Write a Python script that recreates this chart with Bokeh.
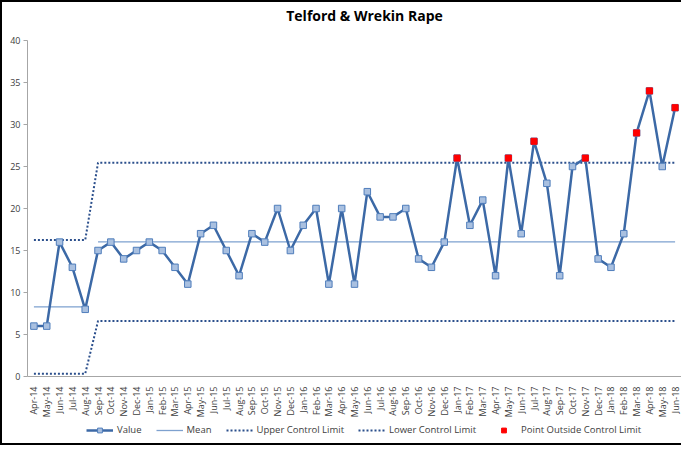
import math
from bokeh.plotting import figure
from bokeh.layouts import column
from bokeh.models import FixedTicker, Legend, LegendItem, Range1d, Label
from bokeh.embed import file_html
from bokeh.resources import INLINE

title_text = "Telford & Wrekin Rape"
months = ["Apr-14", "May-14", "Jun-14", "Jul-14", "Aug-14", "Sep-14", "Oct-14", "Nov-14", "Dec-14",
          "Jan-15", "Feb-15", "Mar-15", "Apr-15", "May-15", "Jun-15", "Jul-15", "Aug-15", "Sep-15",
          "Oct-15", "Nov-15", "Dec-15", "Jan-16", "Feb-16", "Mar-16", "Apr-16", "May-16", "Jun-16",
          "Jul-16", "Aug-16", "Sep-16", "Oct-16", "Nov-16", "Dec-16", "Jan-17", "Feb-17", "Mar-17",
          "Apr-17", "May-17", "Jun-17", "Jul-17", "Aug-17", "Sep-17", "Oct-17", "Nov-17", "Dec-17",
          "Jan-18", "Feb-18", "Mar-18", "Apr-18", "May-18", "Jun-18"]
values = [6, 6, 16, 13, 8, 15, 16, 14, 15,
          16, 15, 13, 11, 17, 18, 15, 12, 17,
          16, 20, 15, 18, 20, 11, 20, 11, 22,
          19, 19, 20, 14, 13, 16, 26, 18, 21,
          12, 26, 17, 28, 23, 12, 25, 26, 14,
          13, 17, 29, 34, 25, 32]
mean_vals = [8.28] * 5 + [16.03] * 46
ucl_vals = [16.24] * 5 + [25.45] * 46
lcl_vals = [0.32] * 5 + [6.6] * 46
legend_labels = ["Value", "Mean", "Upper Control Limit", "Lower Control Limit",
                 "Point Outside Control Limit"]

x = list(range(len(months)))
out_x = [i for i in x if values[i] > ucl_vals[i] or values[i] < lcl_vals[i]]
out_y = [values[i] for i in out_x]

FONT = "Open Sans"
TXT = "#404040"
C_VAL = "#3C69A6"
C_MFILL = "#A9C0E0"
C_MLINE = "#4F7DBB"
C_MEAN = "#7EA1CF"
C_LIM = "#2B4F8C"
C_OUT = "#FF0000"
W = 679


def blank_strip(height):
    f = figure(width=W, height=height, output_backend="svg", toolbar_location=None,
               x_range=Range1d(0, 1), y_range=Range1d(0, 1),
               min_border_left=0, min_border_right=0, min_border_top=0, min_border_bottom=0)
    f.axis.visible = False
    f.xgrid.visible = False
    f.ygrid.visible = False
    f.outline_line_color = None
    f.border_fill_color = "white"
    return f


# title strip
t = blank_strip(32)
t.add_layout(Label(x=337, y=19, x_units="screen", y_units="screen", text=title_text,
                   text_align="center", text_baseline="middle", text_font=FONT,
                   text_font_size="14px", text_font_style="bold", text_color="#000000"))

# main chart
p = figure(width=W, height=386, output_backend="svg", toolbar_location=None,
           x_range=Range1d(-0.5, len(months) - 0.5), y_range=Range1d(0, 40),
           min_border_left=25, min_border_right=0, min_border_top=6, min_border_bottom=10)
p.xgrid.visible = False
p.ygrid.visible = False
p.outline_line_color = None
p.background_fill_color = "white"
p.border_fill_color = "white"

p.yaxis.ticker = FixedTicker(ticks=[0, 5, 10, 15, 20, 25, 30, 35, 40])
p.yaxis.axis_line_color = "#A6A6A6"
p.yaxis.major_tick_line_color = "#A6A6A6"
p.yaxis.major_tick_out = 4
p.yaxis.major_tick_in = 0
p.yaxis.minor_tick_line_color = None
p.yaxis.major_label_text_font = FONT
p.yaxis.major_label_text_font_size = "9px"
p.yaxis.major_label_text_color = TXT
p.yaxis.major_label_standoff = 3

p.xaxis.ticker = FixedTicker(ticks=x)
p.xaxis.major_label_overrides = {i: m for i, m in enumerate(months)}
p.xaxis.major_label_orientation = math.pi / 2
p.xaxis.axis_line_color = "#A6A6A6"
p.xaxis.major_tick_line_color = None
p.xaxis.minor_tick_line_color = None
p.xaxis.major_label_text_font = FONT
p.xaxis.major_label_text_font_size = "9px"
p.xaxis.major_label_text_color = TXT
p.xaxis.major_label_standoff = 4

# control limits
p.line(x, ucl_vals, line_color=C_LIM, line_width=2, line_dash="2 2")
p.line(x, lcl_vals, line_color=C_LIM, line_width=2, line_dash="2 2")

# mean, drawn as separate segments per phase
start = 0
for i in range(1, len(mean_vals) + 1):
    if i == len(mean_vals) or mean_vals[i] != mean_vals[start]:
        seg = list(range(start, i))
        p.line(seg, [mean_vals[j] for j in seg], line_color=C_MEAN, line_width=1.3)
        start = i

# values
p.line(x, values, line_color=C_VAL, line_width=2.5)
p.scatter(x, values, marker="square", size=6.5, fill_color=C_MFILL, line_color=C_MLINE, line_width=1)
p.scatter(out_x, out_y, marker="square", size=6, fill_color=C_OUT, line_color=C_OUT)

# legend strip underneath (separate figure so it is not clipped)
q = blank_strip(23)
hx, hy = [-5], [-5]
r_val_l = q.line(hx, hy, line_color=C_VAL, line_width=2.5)
r_val_m = q.scatter(hx, hy, marker="square", size=6.5, fill_color=C_MFILL, line_color=C_MLINE, line_width=1)
r_mean = q.line(hx, hy, line_color=C_MEAN, line_width=1.3)
r_ucl = q.line(hx, hy, line_color=C_LIM, line_width=2, line_dash="2 2")
r_lcl = q.line(hx, hy, line_color=C_LIM, line_width=2, line_dash="2 2")
r_out = q.scatter(hx, hy, marker="square", size=6, fill_color=C_OUT, line_color=C_OUT)

legend = Legend(items=[
    LegendItem(label=legend_labels[0], renderers=[r_val_l, r_val_m]),
    LegendItem(label=legend_labels[1], renderers=[r_mean]),
    LegendItem(label=legend_labels[2], renderers=[r_ucl]),
    LegendItem(label=legend_labels[3], renderers=[r_lcl]),
    LegendItem(label=legend_labels[4], renderers=[r_out]),
], orientation="horizontal", location=(59, 7))
legend.label_text_font = FONT
legend.label_text_font_size = "9.5px"
legend.label_text_color = TXT
legend.glyph_width = 27
legend.glyph_height = 12
legend.label_standoff = 4
legend.spacing = 14
legend.border_line_color = None
legend.background_fill_alpha = 0
legend.padding = 2
legend.margin = 0
q.add_layout(legend, "center")

layout = column(t, p, q, spacing=0)
layout.styles = {"border-left": "2px solid black", "border-top": "2px solid black",
                 "border-bottom": "2px solid black"}

open("out.html", "w").write(file_html(layout, INLINE))
